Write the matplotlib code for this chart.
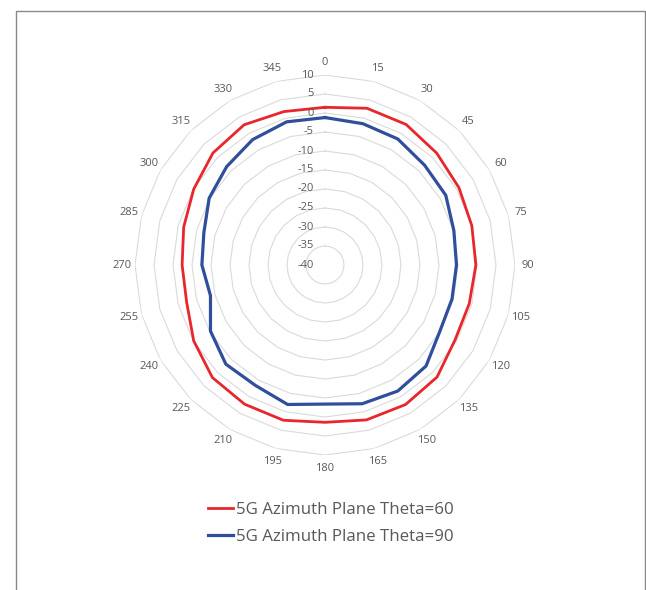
import numpy as np
import matplotlib
matplotlib.use("Agg")
import matplotlib.pyplot as plt
from matplotlib.lines import Line2D

plt.rcParams["font.family"] = ["Open Sans", "DejaVu Sans"]

# azimuth angles (deg) and measured gain (dB)
angles = [0, 15, 30, 45, 60, 75, 90, 105, 120, 135, 150, 165,
          180, 195, 210, 225, 240, 255, 270, 285, 300, 315, 330, 345]
theta60 = [1.5, 2.7, 2.7, 1.6, 0.7, 0.0, -0.3, -0.7, -0.5, 1.7, 2.4, 2.2,
           1.4, 2.3, 2.3, 1.9, -0.1, -2.3, -2.4, -1.5, -0.1, 1.7, 2.6, 1.8]
theta90 = [-1.2, -1.5, -1.7, -2.9, -3.3, -4.9, -5.4, -5.4, -5.1, -2.4, -1.7, -2.2,
           -3.4, -2.0, -3.4, -3.1, -5.2, -8.8, -7.6, -7.0, -4.8, -3.4, -1.9, -1.0]
series_names = ["5G Azimuth Plane Theta=60", "5G Azimuth Plane Theta=90"]
rings = [-40, -35, -30, -25, -20, -15, -10, -5, 0, 5, 10]

W, H = 646, 590
fig = plt.figure(figsize=(W / 100, H / 100), dpi=100)

# outer frame (left, top, right)
fx0, fx1, fy1 = 15.5 / W, 644.5 / W, 1 - 10.5 / H
fig.add_artist(Line2D([fx0, fx0, fx1, fx1], [0, fy1, fy1, 0],
                      transform=fig.transFigure, color="#8a8a8a", lw=1.0))

cx, cy, R = 325, 265, 190
ax = fig.add_axes([(cx - R) / W, 1 - (cy + R) / H, 2 * R / W, 2 * R / H],
                  projection="polar")
ax.set_theta_zero_location("N")
ax.set_theta_direction(-1)
ax.set_ylim(rings[0], rings[-1])
ax.grid(False)
ax.spines["polar"].set_visible(False)
ax.set_xticks([])
ax.set_yticks([])

th = np.deg2rad(angles + [angles[0]])
grid_c = "#dadada"
# polygonal rings, no spokes
for v in rings[1:]:
    ax.plot(th, [v] * len(th), color=grid_c, lw=0.8, zorder=1)

red = "#e8262c"
blue = "#2f4e9c"
l1, = ax.plot(th, theta60 + [theta60[0]], color=red, lw=2.0, zorder=3)
l2, = ax.plot(th, theta90 + [theta90[0]], color=blue, lw=2.3, zorder=3)

txt_c = "#595959"
# angle labels
lab_r = rings[0] + (rings[-1] - rings[0]) * 203 / R
for a in angles:
    ax.text(np.deg2rad(a), lab_r, str(a), ha="center", va="center",
            fontsize=8, color=txt_c)

# value labels along the 0 spoke
for v in rings:
    yy = cy - (v - rings[0]) / (rings[-1] - rings[0]) * R
    fig.text((cx - 11) / W, 1 - yy / H, str(v), ha="right", va="center",
             fontsize=8, color=txt_c)

fig.legend([l1, l2], series_names, loc="center",
           bbox_to_anchor=(331 / W, 1 - 523.5 / H), frameon=False,
           fontsize=12.2, handlelength=1.5, handletextpad=0.18,
           labelspacing=0.64, labelcolor=txt_c)

fig.savefig("out.png", dpi=100)
